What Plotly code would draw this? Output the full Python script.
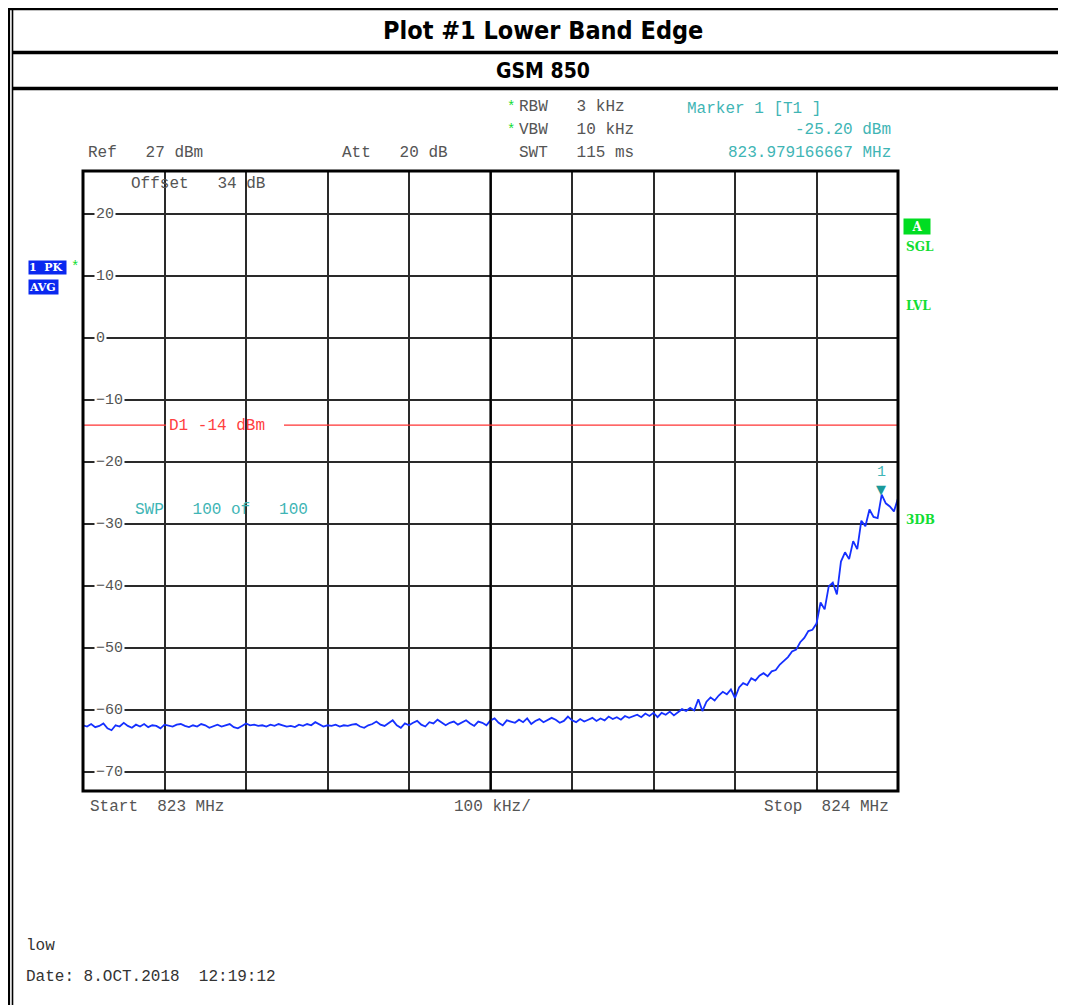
import plotly.graph_objects as go

# ---------------- data ----------------
START_MHZ = 823.0
STOP_MHZ = 824.0
LEVEL_DBM = [
    -62.4, -62.6, -62.2, -62.7, -62.5, -62.1, -62.9, -63.2, -62.4, -62.6,
    -62.0, -62.5, -62.8, -62.3, -62.6, -62.2, -62.7, -62.4, -62.5, -62.9,
    -62.3, -62.4, -62.6, -62.3, -62.2, -62.5, -62.7, -62.4, -62.6, -62.2,
    -62.4, -62.8, -62.5, -62.3, -62.6, -62.4, -62.2, -62.7, -62.9, -62.5,
    -62.1, -62.4, -62.3, -62.5, -62.4, -62.6, -62.3, -62.5, -62.2, -62.4,
    -62.6, -62.5, -62.7, -62.3, -62.5, -62.2, -62.4, -61.9, -62.3, -62.6,
    -62.4, -62.5, -62.3, -62.6, -62.4, -62.5, -62.3, -62.2, -62.6, -62.8,
    -62.4, -62.2, -61.8, -62.3, -62.5, -62.0, -61.6, -62.4, -62.8, -62.1,
    -62.4, -62.0, -61.7, -62.3, -62.6, -61.9, -62.1, -61.5, -62.0, -62.4,
    -62.0, -61.8, -62.3, -61.9, -61.6, -62.1, -62.5, -61.8, -62.0, -62.4,
    -61.6, -61.3, -62.0, -62.4, -61.6, -61.8, -62.0, -61.5, -61.9, -61.3,
    -62.2, -61.7, -61.4, -61.9, -61.6, -61.2, -61.5, -62.0, -61.7, -61.0,
    -61.6, -61.9, -61.4, -61.8, -61.5, -61.2, -61.7, -61.3, -61.6, -61.0,
    -61.4, -61.1, -61.5, -60.9, -61.2, -61.0, -60.7, -61.1, -60.5, -60.9,
    -60.4, -61.1, -60.4, -60.7, -60.2, -60.8, -60.3, -59.8, -60.1, -59.6,
    -60.0, -58.2, -60.1, -58.6, -57.9, -58.4, -57.6, -57.0, -57.4, -56.6,
    -58.0, -56.3, -55.6, -55.9, -54.8, -55.2, -54.4, -54.0, -54.5, -53.7,
    -53.5, -52.6, -52.0, -51.4, -50.5, -50.2, -49.0, -48.3, -47.2, -47.0,
    -46.0, -42.6, -43.7, -40.0, -39.4, -41.3, -36.0, -34.5, -35.6, -32.7,
    -34.0, -29.4, -30.3, -27.6, -28.8, -29.0, -25.2, -26.6, -27.1, -27.9,
    -25.8,
]
Y_TICKS = [20, 10, 0, -10, -20, -30, -40, -50, -60, -70]
Y_TICK_LABELS = ["20", "10", "0", "\u221210", "\u221220", "\u221230", "\u221240", "\u221250", "\u221260", "\u221270"]
REF_LEVEL = 27
DISPLAY_LINE = -14
MARKER_FREQ = 823.979166667
MARKER_LEVEL = -25.20

n = len(LEVEL_DBM)
freq = [START_MHZ + i * (STOP_MHZ - START_MHZ) / (n - 1) for i in range(n)]

OFF = 8  # page body margin
W, H = 1066 - OFF, 1005 - OFF
PL, PR, PT, PB = 83, 898, 171, 791


def px(x, y):
    return (x - OFF) / W, 1 - (y - OFF) / H


MONO = "Liberation Mono, Courier New, monospace"
SERIF_B = "DejaVu Serif, Liberation Serif, serif"
NARROW = "Liberation Sans Narrow, Arial Narrow, DejaVu Sans Condensed, sans-serif"
GRAY = "#555555"
TEAL = "#3fb5b5"
GREEN = "#11dd33"

fig = go.Figure()
fig.add_trace(go.Scatter(x=freq, y=LEVEL_DBM, mode="lines",
                         line=dict(color="#1530ff", width=1.8), hoverinfo="skip"))

xd0, yd0 = px(PL, PB)
xd1, yd1 = px(PR, PT)
fig.update_layout(
    width=W, height=H, margin=dict(l=0, r=0, t=0, b=0),
    paper_bgcolor="white", plot_bgcolor="white", showlegend=False,
    xaxis=dict(domain=[xd0, xd1], range=[START_MHZ, STOP_MHZ], dtick=0.1, tick0=START_MHZ,
               showgrid=True, gridcolor="#2a2a2a", gridwidth=1.5, showticklabels=False,
               zeroline=False, showline=False, ticks=""),
    yaxis=dict(domain=[yd0, yd1], range=[REF_LEVEL - 100, REF_LEVEL],
               tickvals=Y_TICKS, showgrid=True, gridcolor="#2a2a2a", gridwidth=1.5,
               showticklabels=False, zeroline=False, showline=False, ticks=""),
)

shapes = []
# page frame lines
for yy, x0 in [(8.5, 8), (52.5, 12), (88.5, 12)]:
    a = px(x0, yy); b = px(1066, yy)
    shapes.append(dict(type="line", xref="paper", yref="paper", x0=a[0], y0=a[1], x1=b[0], y1=b[1],
                       line=dict(color="black", width=3.5)))
for xx, w in [(9, 2.2), (12.5, 1.6)]:
    a = px(xx, 8); b = px(xx, 1005)
    shapes.append(dict(type="line", xref="paper", yref="paper", x0=a[0], y0=a[1], x1=b[0], y1=b[1],
                       line=dict(color="black", width=w)))
# center vertical line
shapes.append(dict(type="line", xref="x", yref="paper", x0=(START_MHZ + STOP_MHZ) / 2, x1=(START_MHZ + STOP_MHZ) / 2,
                   y0=yd0, y1=yd1, line=dict(color="black", width=2.2)))
# display line in two pieces around its label
a = px(PL, 0); b = px(166, 0)
shapes.append(dict(type="line", xref="paper", yref="y", x0=a[0], x1=b[0], y0=DISPLAY_LINE, y1=DISPLAY_LINE,
                   line=dict(color="#ff3333", width=1.2)))
a = px(284, 0); b = px(PR, 0)
shapes.append(dict(type="line", xref="paper", yref="y", x0=a[0], x1=b[0], y0=DISPLAY_LINE, y1=DISPLAY_LINE,
                   line=dict(color="#ff3333", width=1.2)))
# plot border
shapes.append(dict(type="rect", xref="paper", yref="paper", x0=xd0, x1=xd1, y0=yd0, y1=yd1,
                   line=dict(color="black", width=3)))
fig.update_layout(shapes=shapes)

ann = []


def text(x, y, s, color=GRAY, size=16, family=MONO, xanchor="left", yanchor="middle", **kw):
    a, b = px(x, y)
    ann.append(dict(x=a, y=b, xref="paper", yref="paper", text=s, showarrow=False,
                    xanchor=xanchor, yanchor=yanchor, font=dict(color=color, size=size, family=family), **kw))


# titles
text(543, 31, "<b>Plot #1 Lower Band Edge</b>", color="black", size=25, family=NARROW, xanchor="center")
text(543, 71, "<b>GSM 850</b>", color="black", size=21, family=NARROW, xanchor="center")

# header
text(511, 107, "*", color=GREEN, size=14, xanchor="center")
text(511, 130, "*", color=GREEN, size=14, xanchor="center")
text(517, 107, "RBW   3 kHz")
text(517, 130, "VBW   10 kHz")
text(517, 153, "SWT   115 ms")
text(86, 153, "Ref   27 dBm")
text(340, 153, "Att   20 dB")
text(685, 109, "Marker 1 [T1 ]", color=TEAL)
text(893, 130, "-25.20 dBm", color=TEAL, xanchor="right")
text(893, 153, "823.979166667 MHz", color=TEAL, xanchor="right")
text(129, 184, "Offset   34 dB")

# y tick labels inside the plot
for v, lab in zip(Y_TICKS, Y_TICK_LABELS):
    a, _ = px(94, 0)
    ann.append(dict(x=a, y=v, xref="paper", yref="y", text=lab, showarrow=False, xanchor="left",
                    yanchor="middle", bgcolor="white", borderpad=1,
                    font=dict(color=GRAY, size=15, family=MONO)))

text(167, 426, "D1 -14 dBm", color="#ff4040")
text(133, 510, "SWP   100 of   100", color=TEAL)

# marker
ann.append(dict(x=MARKER_FREQ, y=MARKER_LEVEL, xref="x", yref="y", text="\u25bc", showarrow=False,
                xanchor="center", yanchor="bottom", yshift=-4,
                font=dict(color="#1a9a9a", size=13, family="DejaVu Sans")))
ann.append(dict(x=MARKER_FREQ, y=MARKER_LEVEL, xref="x", yref="y", text="1", showarrow=False,
                xanchor="center", yanchor="bottom", yshift=12,
                font=dict(color=TEAL, size=15, family=MONO)))

# left side labels
text(28, 267.5, "<b>1  PK</b>", color="white", size=11, family=SERIF_B, bgcolor="#0a28f0", borderpad=0,
     width=37, height=13, align="left")
text(28, 287, "<b>AVG</b>", color="white", size=11, family=SERIF_B, bgcolor="#0a28f0", borderpad=0,
     width=29, height=14, align="left")
text(75, 267, "*", color=GREEN, size=14, xanchor="center")

# right side labels
text(903, 226.5, "<b>A</b>", color="white", size=12, family=SERIF_B, bgcolor="#00dd22", borderpad=0,
     width=26, height=15, align="center")
text(904, 247, "<b>SGL</b>", color=GREEN, size=12, family=SERIF_B)
text(904, 306, "<b>LVL</b>", color=GREEN, size=12, family=SERIF_B)
text(904, 520, "<b>3DB</b>", color=GREEN, size=12, family=SERIF_B)

# bottom
text(88, 807, "Start  823 MHz")
text(492, 807, "100 kHz/", xanchor="center")
text(891, 807, "Stop  824 MHz", xanchor="right")
text(24, 946, "low", color="#333333")
text(24, 977, "Date: 8.OCT.2018  12:19:12", color="#333333")

fig.update_layout(annotations=ann)
fig.write_html("out.html")
